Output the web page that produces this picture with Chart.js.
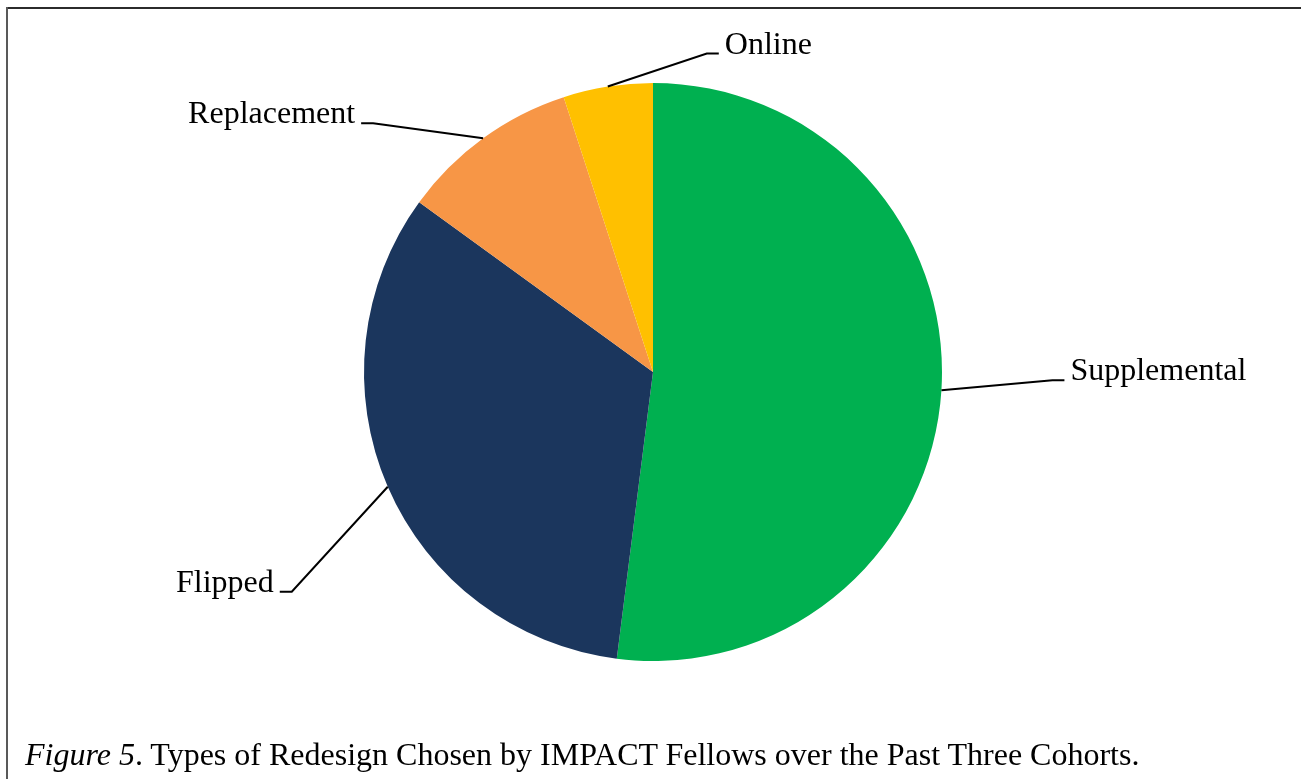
<!DOCTYPE html>
<html lang="en">
<head>
  <meta charset="UTF-8">
  <title>Types of Redesign</title>
  <style>
    body {
      margin: 0;
      background: #ffffff;
      font-family: 'Liberation Serif', 'Times New Roman', serif;
      overflow: hidden;
    }
    .page {
      position: relative;
      width: 1301px;
      height: 779px;
    }
    .page canvas {
      position: absolute;
      left: 0;
      top: 0;
    }
    /* figure frame: only the top and left rules show */
    .rule-top {
      position: absolute;
      left: 6px;
      top: 7px;
      width: 1295px;
      height: 2px;
      background: #2b2b2b;
    }
    .rule-left {
      position: absolute;
      left: 6px;
      top: 7px;
      width: 2px;
      height: 772px;
      background: #595959;
    }
    .caption {
      position: absolute;
      left: 25px;
      top: 736px;
      font-size: 32px;
      line-height: 36px;
      color: #000;
      white-space: nowrap;
    }
    .caption em { font-style: italic; }
  </style>
</head>
<body>
  <div class="page">
    <canvas id="pieChart" width="1301" height="779"></canvas>
    <div class="rule-top"></div>
    <div class="rule-left"></div>
    <div class="caption"><em>Figure 5</em>. Types of Redesign Chosen by IMPACT Fellows over the Past Three Cohorts.</div>
  </div>

  <script src="https://cdn.jsdelivr.net/npm/chart.js@4.4.0/dist/chart.umd.min.js"></script>
  <script>
    // Share of fellows per redesign type (percent)
    const redesignTypes = ['Supplemental', 'Flipped', 'Replacement', 'Online'];
    const redesignShare = [52, 33, 10, 5];
    const sliceColors = ['#00b050', '#1b365d', '#f79646', '#ffc000'];

    // Where each label's leader line bends, relative to the slice edge,
    // and which side the label text sits on
    const leaderBends = [
      { dx: 111, dy: -10, side: 1 },
      { dx: -96, dy: 105, side: -1 },
      { dx: -110, dy: -15, side: -1 },
      { dx: 99, dy: -33, side: 1 }
    ];

    const leaderLabels = {
      id: 'leaderLabels',
      afterDatasetsDraw(chart) {
        const ctx = chart.ctx;
        const arcs = chart.getDatasetMeta(0).data;
        ctx.save();
        ctx.strokeStyle = '#000';
        ctx.lineWidth = 2;
        ctx.fillStyle = '#000';
        ctx.font = '32px "Liberation Serif", "Times New Roman", serif';
        ctx.textBaseline = 'alphabetic';
        arcs.forEach((arc, i) => {
          const p = arc.getProps(['x', 'y', 'startAngle', 'endAngle', 'outerRadius'], true);
          const mid = (p.startAngle + p.endAngle) / 2;
          const ex = p.x + Math.cos(mid) * p.outerRadius;
          const ey = p.y + Math.sin(mid) * p.outerRadius;
          const b = leaderBends[i];
          const bx = ex + b.dx;
          const by = ey + b.dy;
          const hx = bx + b.side * 12;
          ctx.beginPath();
          ctx.moveTo(ex, ey);
          ctx.lineTo(bx, by);
          ctx.lineTo(hx, by);
          ctx.stroke();
          ctx.textAlign = b.side > 0 ? 'left' : 'right';
          ctx.fillText(redesignTypes[i], hx + b.side * 6, by);
        });
        ctx.restore();
      }
    };

    new Chart(document.getElementById('pieChart'), {
      type: 'pie',
      data: {
        labels: redesignTypes,
        datasets: [{
          data: redesignShare,
          backgroundColor: sliceColors,
          borderWidth: 0,
          hoverOffset: 0
        }]
      },
      options: {
        responsive: false,
        animation: false,
        events: [],
        layout: {
          padding: { left: 364, right: 359, top: 83, bottom: 118 }
        },
        plugins: {
          legend: { display: false },
          tooltip: { enabled: false }
        }
      },
      plugins: [leaderLabels]
    });
  </script>
</body>
</html>
